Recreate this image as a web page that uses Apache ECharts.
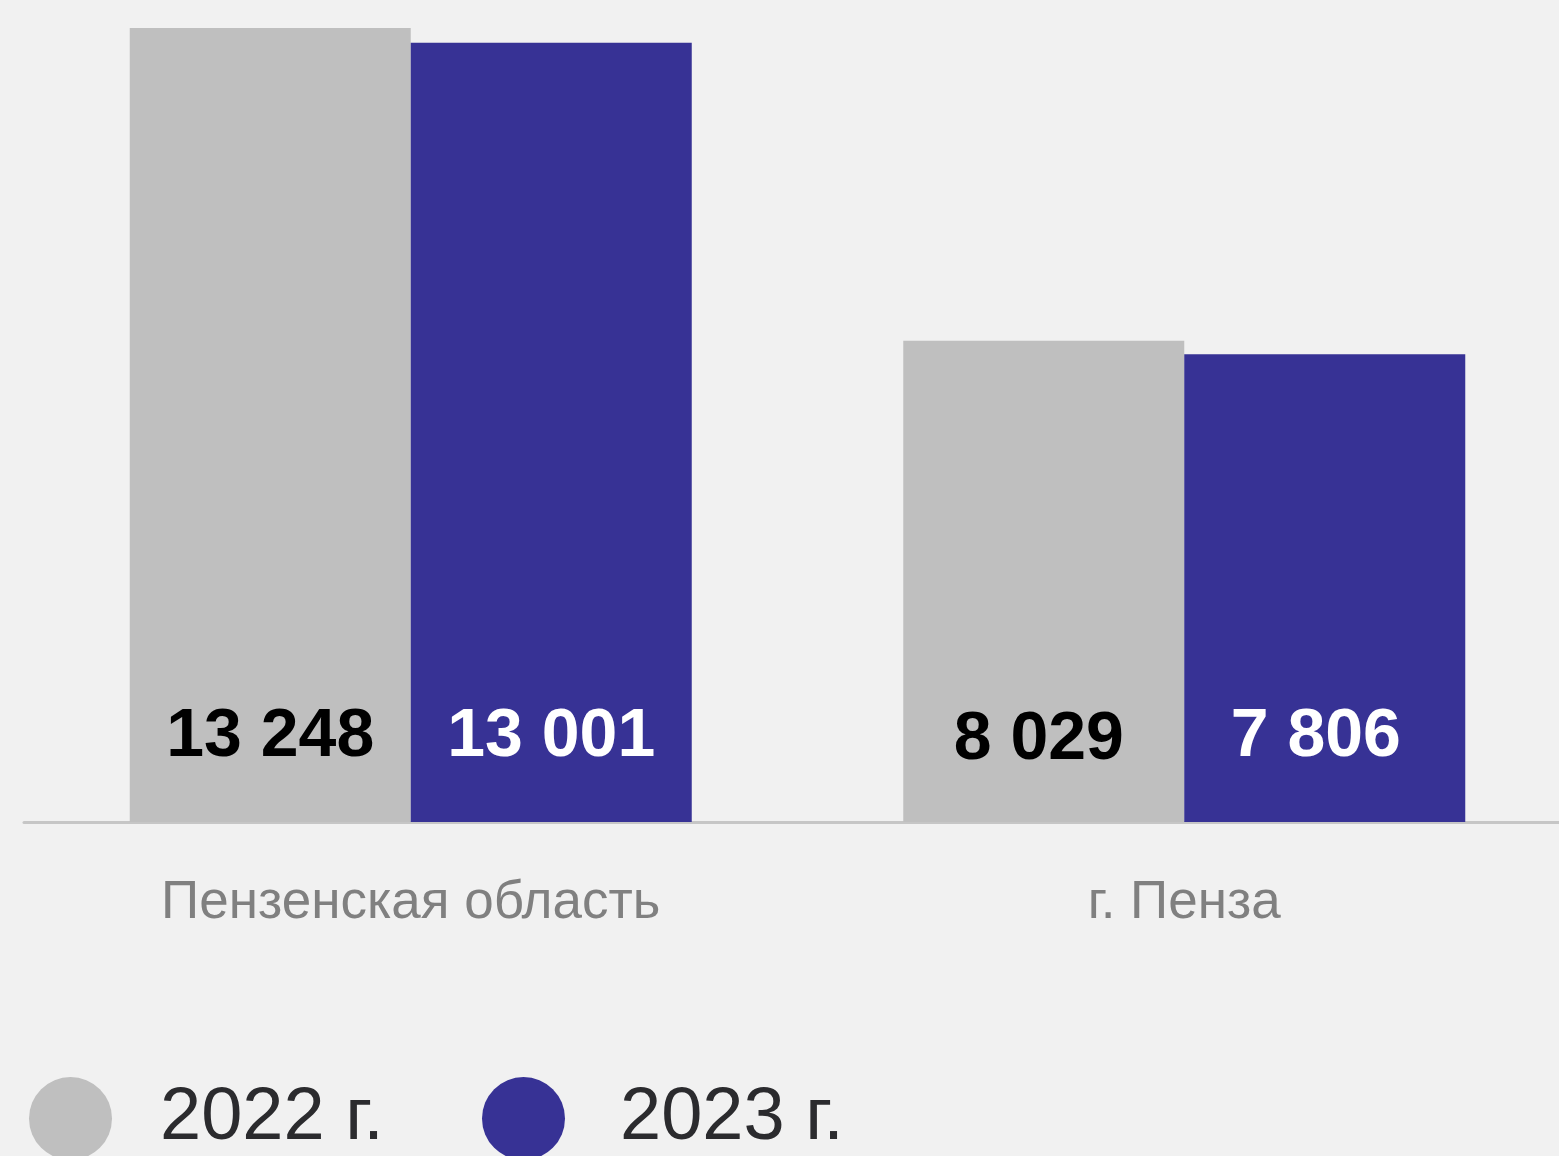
<!DOCTYPE html>
<html>
<head>
<meta charset="utf-8">
<script src="https://cdn.jsdelivr.net/npm/echarts@6/dist/echarts.min.js"></script>
<style>
html,body{margin:0;padding:0;background:#f1f1f1;overflow:hidden;}
#chart{width:1559px;height:1156px;}
</style>
</head>
<body>
<div id="chart"></div>
<script>
var categories = ['Пензенская область', 'г. Пенза'];
var seriesNames = ['2022 г.', '2023 г.'];
var values2022 = [13248, 8029];
var values2023 = [13001, 7806];
var colors = ['#bfbfbf', '#373295'];
var labelColors = ['#000000', '#ffffff'];
// small per-bar label nudges (x, y) to match the reference placement
var labelOffsets2022 = [[0, 0], [-5, 3]];
var labelOffsets2023 = [[0, 0], [-9, 0]];

var FONT = "'Liberation Sans', Arial, sans-serif";
function fmt(p){ return String(p.value).replace(/\B(?=(\d{3})+(?!\d))/g, ' '); }

function makeSeries(i, values, offsets){
  return {
    name: seriesNames[i],
    type: 'bar',
    data: values.map(function(v, k){ return { value: v, label: { offset: offsets[k] } }; }),
    barWidth: 281,
    barGap: '0%',
    itemStyle: { color: colors[i] },
    label: {
      show: true,
      position: 'insideBottom',
      distance: 51,
      formatter: fmt,
      color: labelColors[i],
      fontFamily: FONT,
      fontWeight: 'bold',
      fontSize: 68,
      lineHeight: 68
    }
  };
}

var chart = echarts.init(document.getElementById('chart'), null, {renderer: 'canvas'});
chart.setOption({
  backgroundColor: '#f1f1f1',
  animation: false,
  grid: { left: 24, width: 1547, top: 28, bottom: 334, containLabel: false, outerBoundsMode: 'none' },
  xAxis: {
    type: 'category',
    data: categories,
    axisLine: { show: true, lineStyle: { color: '#c6c6c6', width: 3 } },
    axisTick: { show: false },
    axisLabel: {
      color: '#808080',
      fontFamily: FONT,
      fontSize: 53,
      lineHeight: 53,
      margin: 55,
      interval: 0
    }
  },
  yAxis: {
    type: 'value',
    min: 0,
    max: 13248,
    show: false,
    splitLine: { show: false }
  },
  legend: [
    {
      data: [seriesNames[0]],
      left: 29, top: 1077, padding: 0,
      icon: 'circle', itemWidth: 83, itemHeight: 83,
      textStyle: { color: '#2b2b2e', fontFamily: FONT, fontSize: 74, padding: [0, 0, 0, 43] }
    },
    {
      data: [seriesNames[1]],
      left: 482, top: 1077, padding: 0,
      icon: 'circle', itemWidth: 83, itemHeight: 83,
      textStyle: { color: '#2b2b2e', fontFamily: FONT, fontSize: 74, padding: [0, 0, 0, 50] }
    }
  ],
  series: [ makeSeries(0, values2022, labelOffsets2022), makeSeries(1, values2023, labelOffsets2023) ]
});
</script>
</body>
</html>
